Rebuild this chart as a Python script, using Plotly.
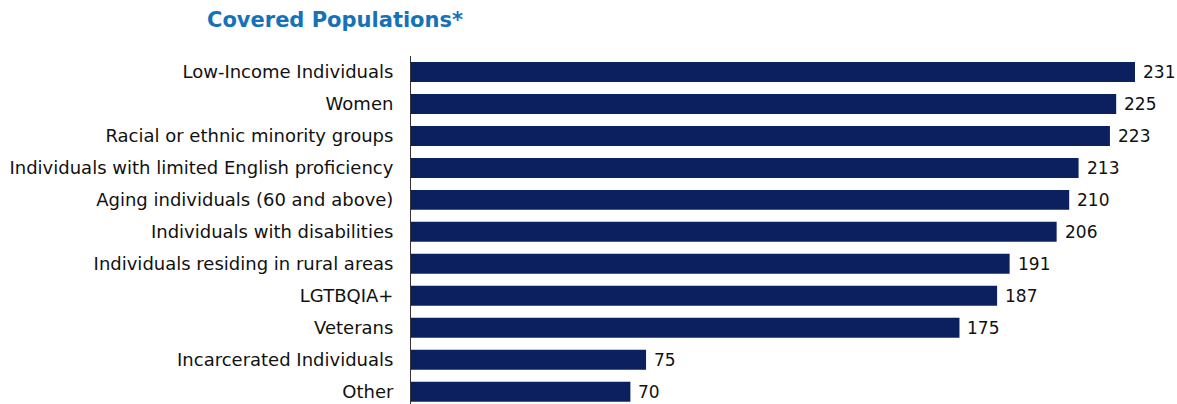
import plotly.graph_objects as go

categories = [
    "Low-Income Individuals",
    "Women",
    "Racial or ethnic minority groups",
    "Individuals with limited English proficiency",
    "Aging individuals (60 and above)",
    "Individuals with disabilities",
    "Individuals residing in rural areas",
    "LGTBQIA+",
    "Veterans",
    "Incarcerated Individuals",
    "Other",
]
counts = [231, 225, 223, 213, 210, 206, 191, 187, 175, 75, 70]
title_text = "Covered Populations*"

positions = list(range(len(categories)))
bar_color = "#0c2060"
font_family = "DejaVu Sans"

W, H = 1177, 404
ML, MR, MT, MB = 411, 30, 56, 0
plot_w = W - ML - MR
plot_h = H - MT - MB

fig = go.Figure(
    go.Bar(
        x=counts,
        y=positions,
        orientation="h",
        marker=dict(color=bar_color, line=dict(width=0)),
        width=0.625,
        hoverinfo="x+y",
    )
)

# value labels at the end of each bar
for pos, val in zip(positions, counts):
    fig.add_annotation(
        x=val, y=pos, text=str(val), showarrow=False,
        xanchor="left", yanchor="middle", xshift=6,
        font=dict(family=font_family, size=17, color="#111111"),
    )

# chart title, positioned in paper coordinates
fig.add_annotation(
    x=(205 - ML) / plot_w, y=1 + (MT - 20) / plot_h,
    xref="paper", yref="paper", text=f"<b>{title_text}</b>",
    showarrow=False, xanchor="left", yanchor="middle",
    font=dict(family=font_family, size=21, color="#1672b8"),
)

fig.update_layout(
    width=W,
    height=H,
    margin=dict(l=ML, r=MR, t=MT, b=MB),
    plot_bgcolor="white",
    paper_bgcolor="white",
    showlegend=False,
    font=dict(family=font_family, size=18, color="#111111"),
    xaxis=dict(range=[0, 231 * plot_w / 724], visible=False, fixedrange=True),
    yaxis=dict(
        range=[10.384, -0.5],
        tickmode="array",
        tickvals=positions,
        ticktext=categories,
        showgrid=False,
        zeroline=False,
        showline=True,
        linecolor="#333333",
        linewidth=1,
        ticks="",
        ticklabelstandoff=13,
        tickfont=dict(family=font_family, size=18, color="#111111"),
    ),
)

fig.write_html("out.html")
